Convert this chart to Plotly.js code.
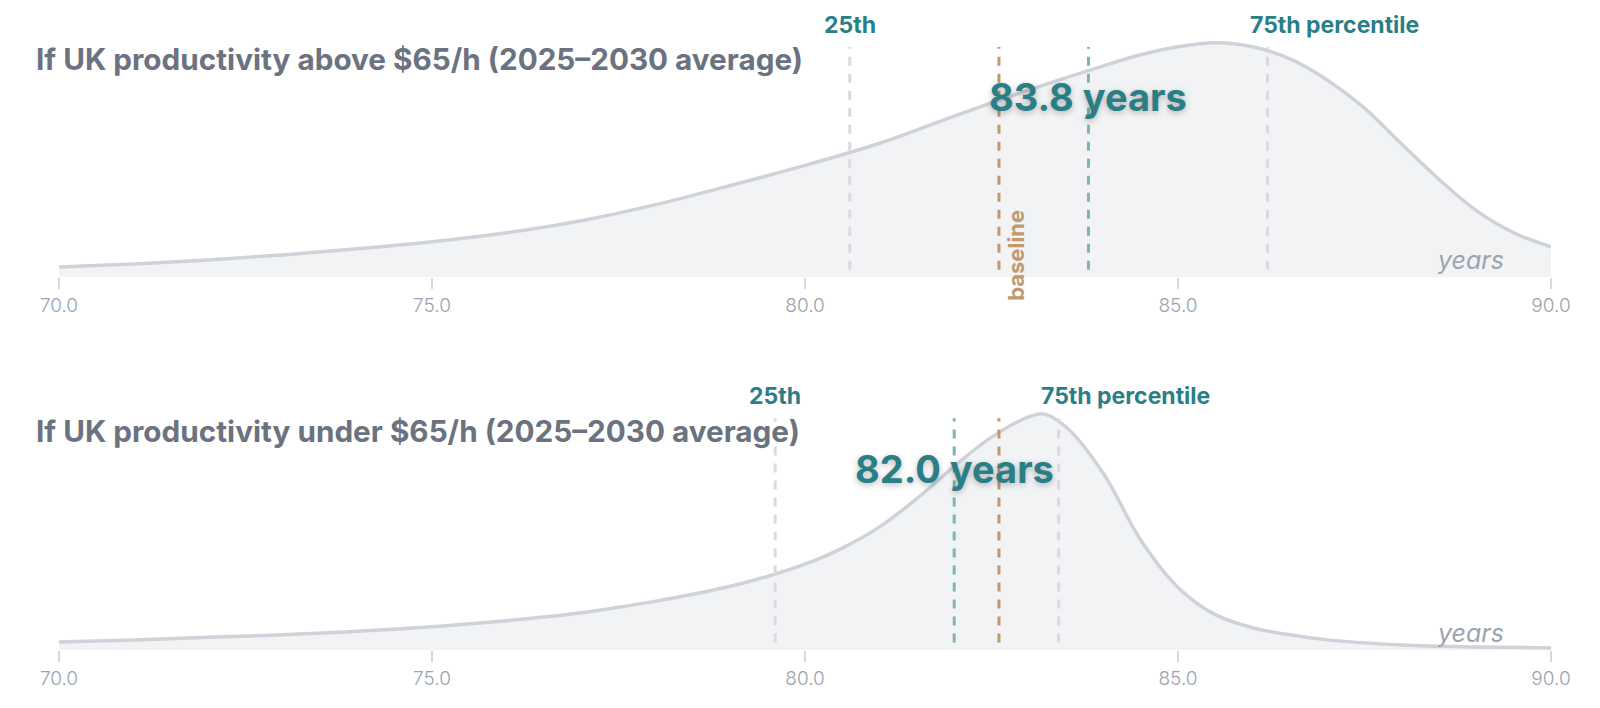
<!DOCTYPE html>
<html>
<head>
<meta charset="utf-8">
<script src="https://cdn.plot.ly/plotly-3.0.1.min.js"></script>
<style>
  html, body { margin: 0; padding: 0; background: #ffffff; }
  #chart { width: 1600px; height: 708px; }
</style>
</head>
<body>
<div id="chart"></div>
<script>
// ---- data ----
const xTicks = [70, 75, 80, 85, 90];

const aboveTitle = "If UK productivity above $65/h (2025\u20132030 average)";
const aboveX = [70, 71, 72, 73, 74, 75, 76, 77, 78, 79, 80, 81, 82, 83, 84, 84.5, 85, 85.5, 86, 86.5, 87, 87.5, 88, 88.5, 89, 89.5, 90];
const aboveY = [0.005, 0.0065, 0.0085, 0.011, 0.014, 0.0175, 0.022, 0.028, 0.036, 0.0455, 0.0555, 0.0665, 0.080, 0.093, 0.105, 0.1105, 0.1145, 0.1165, 0.1145, 0.1085, 0.098, 0.084, 0.066, 0.0485, 0.033, 0.022, 0.015];
const aboveP25 = 80.6, aboveMedian = 83.8, aboveP75 = 86.2;

const underTitle = "If UK productivity under $65/h (2025\u20132030 average)";
const underX = [70, 71, 72, 73, 74, 75, 76, 76.5, 77, 77.5, 78, 78.5, 79, 79.5, 80, 80.5, 81, 81.5, 82, 82.5, 83, 83.2, 83.5, 84, 84.5, 85, 85.5, 86, 86.5, 87, 88, 89, 90];
const underY = [0.004, 0.005, 0.00625, 0.0075, 0.00925, 0.0115, 0.0145, 0.0163, 0.0185, 0.0212, 0.0242, 0.0276, 0.0316, 0.0365, 0.0425, 0.0505, 0.061, 0.075, 0.091, 0.1055, 0.1155, 0.117, 0.1105, 0.0875, 0.0545, 0.031, 0.0175, 0.011, 0.0075, 0.005, 0.0025, 0.0015, 0.001];
const underP25 = 79.6, underMedian = 82.0, underP75 = 83.4;

const baselineValue = 82.6;
const labelP25 = "25th";
const labelP75 = "75th percentile";
const unitLabel = "years";
const baselineLabel = "baseline";

// ---- styles ----
const TEAL = "#2a7f86";
const TEAL_LINE = "#7fb4b7";
const TAN = "#bf9a6c";
const GREY_DASH = "#d9dbdf";
const CURVE = "#cfd2d9";
const FILL = "#f2f3f5";
const TITLE_GREY = "#6b7280";
const TICK_GREY = "#9ca3af";
const FONT = "Inter, 'Noto Sans', sans-serif";

const traces = [
  { x: aboveX, y: aboveY, xaxis: "x", yaxis: "y", type: "scatter", mode: "lines",
    line: { color: CURVE, width: 3.5, shape: "spline", smoothing: 1 },
    fill: "tozeroy", fillcolor: FILL, hoverinfo: "skip" },
  { x: underX, y: underY, xaxis: "x2", yaxis: "y2", type: "scatter", mode: "lines",
    line: { color: CURVE, width: 3.5, shape: "spline", smoothing: 1 },
    fill: "tozeroy", fillcolor: FILL, hoverinfo: "skip" }
];

function xAxis(anchor) {
  return {
    anchor: anchor, range: [70, 90], tickvals: xTicks, tickformat: ".1f",
    ticks: "outside", ticklen: 11, tickwidth: 2, tickcolor: "#d4d7dc",
    showgrid: false, zeroline: false, showline: false,
    tickfont: { family: FONT, size: 19, color: TICK_GREY, weight: 300 },
    fixedrange: true
  };
}
function yAxis(anchor, domain, data) {
  return {
    anchor: anchor, domain: domain, range: [0, Math.max(...data) * 1.05],
    visible: false, showgrid: false, zeroline: false, fixedrange: true
  };
}

function vline(xref, yref, xv, color) {
  return { type: "line", xref: xref, yref: yref + " domain", x0: xv, x1: xv, y0: 0.03, y1: 0.935,
           line: { color: color, width: 3, dash: "9px,8px" }, layer: "above" };
}

const shapes = [
  vline("x", "y", aboveP25, GREY_DASH),
  vline("x", "y", aboveP75, GREY_DASH),
  vline("x", "y", baselineValue, TAN),
  vline("x", "y", aboveMedian, TEAL_LINE),
  vline("x2", "y2", underP25, GREY_DASH),
  vline("x2", "y2", underP75, GREY_DASH),
  vline("x2", "y2", underMedian, TEAL_LINE),
  vline("x2", "y2", baselineValue, TAN)
];

function panelAnnotations(xr, yr, title, p25, median, p75, withBaseline) {
  const yd = yr + " domain";
  const a = [
    { xref: "paper", yref: yd, x: -0.017, y: 0.885, xanchor: "left", yanchor: "middle",
      text: title, showarrow: false,
      font: { family: FONT, size: 29.7, color: TITLE_GREY, weight: 700 } },
    { xref: xr, yref: yd, x: p25, y: 1.026, xanchor: "center", yanchor: "middle",
      text: labelP25, showarrow: false,
      font: { family: FONT, size: 23, color: TEAL, weight: 700 } },
    { xref: xr, yref: yd, x: p75, y: 1.026, xanchor: "left", yanchor: "middle", xshift: -20,
      text: labelP75, showarrow: false,
      font: { family: FONT, size: 23, color: TEAL, weight: 700 } },
    { xref: xr, yref: yd, x: median, y: 0.73, xanchor: "center", yanchor: "middle",
      text: median.toFixed(1) + " " + unitLabel, showarrow: false,
      font: { family: FONT, size: 38, color: TEAL, weight: 700, shadow: "0px 2px 6px rgba(0,0,0,0.28)" } },
    { xref: xr, yref: yd, x: 89.4, y: 0.07, xanchor: "right", yanchor: "middle",
      text: "<i>" + unitLabel + "</i>", showarrow: false,
      font: { family: FONT, size: 25, color: TICK_GREY, style: "italic" } }
  ];
  if (withBaseline) {
    a.push({ xref: xr, yref: yd, x: baselineValue, y: 0.09, xanchor: "center", yanchor: "middle",
      xshift: 17, textangle: -90, text: baselineLabel, showarrow: false,
      font: { family: FONT, size: 22, color: TAN, weight: 700 } });
  }
  return a;
}

const annotations = [].concat(
  panelAnnotations("x", "y", aboveTitle, aboveP25, aboveMedian, aboveP75, true),
  panelAnnotations("x2", "y2", underTitle, underP25, underMedian, underP75, false)
);

const layout = {
  width: 1600, height: 708,
  margin: { l: 59, r: 49, t: 0, b: 40 },
  paper_bgcolor: "#ffffff", plot_bgcolor: "rgba(0,0,0,0)",
  showlegend: false,
  xaxis: xAxis("y"),
  yaxis: yAxis("x", [0.5853, 0.9536], aboveY),
  xaxis2: xAxis("y2"),
  yaxis2: yAxis("x2", [0.027, 0.398], underY),
  shapes: shapes,
  annotations: annotations
};

Plotly.newPlot("chart", traces, layout, { displayModeBar: false, staticPlot: true });
</script>
</body>
</html>
